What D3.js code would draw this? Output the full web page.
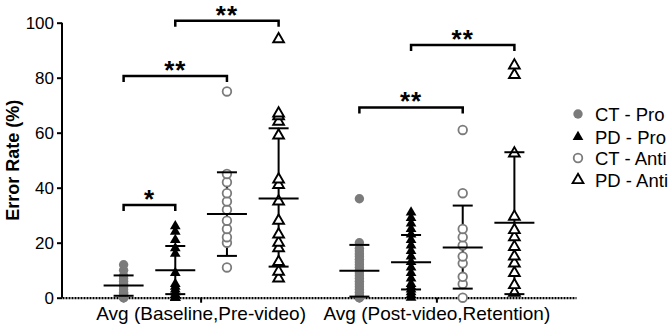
<!DOCTYPE html>
<html lang="en">
<head>
    <meta charset="UTF-8">
    <title>Error Rate</title>
    <style>
        body { margin: 0; background: #fff; font-family: Arial, "Liberation Sans", sans-serif; }
    </style>
</head>
<body>
    <div id="chart"></div>
    <script src="https://d3js.org/d3.v7.min.js"></script>
    <script>
        // Data
        const groups = ["Avg (Baseline,Pre-video)", "Avg (Post-video,Retention)"];
        const seriesNames = ["CT - Pro", "PD - Pro", "CT - Anti", "PD - Anti"];

        const g1CtPro = [0, 0, 0, 0.5, 1, 1.5, 2, 3, 4, 5, 6, 7, 8, 10, 12];
        const g1PdPro = [0, 0, 0, 1, 1, 2, 3, 4, 5, 9, 16, 18, 21, 24, 26];
        const g1CtAnti = [11, 20, 22, 25, 28, 32, 35, 38, 42, 45, 75];
        const g1PdAnti = [7, 9.5, 13, 18, 20, 23, 28, 35, 41, 43, 59, 64, 66, 67, 94];
        const g2CtPro = [0, 0, 0, 1, 2, 3, 4, 5, 6, 7, 8, 9, 10, 11, 12, 13, 14, 15, 16, 17, 18, 20, 36];
        const g2PdPro = [0, 1, 2, 3, 4, 5, 7, 9, 11, 13, 15, 17, 19, 21, 23, 25, 27, 29, 31];
        const g2CtAnti = [0, 5, 7.6, 12.5, 15, 19, 22, 25, 38, 61];
        const g2PdAnti = [1.8, 4.6, 9, 12.5, 15, 18.5, 22, 24.6, 29.5, 52.5, 81, 84.5];

        // mean, lower and upper whisker per group (series order)
        const means = [[4.4, 10, 30.4, 36.1], [9.8, 12.9, 18.3, 27.3]];
        const lows = [[0.7, 1.3, 15.2, 11.3], [0.4, 3, 3.3, 1.3]];
        const highs = [[8.1, 18.8, 45.6, 61.6], [19.2, 22.8, 33.5, 52.9]];

        // significance brackets: group, from series, to series, height, label
        const brackets = [
            [0, 0, 1, 33.7, "*"],
            [0, 0, 2, 80.6, "**"],
            [0, 1, 3, 100.7, "**"],
            [1, 0, 2, 69.2, "**"],
            [1, 1, 3, 91.9, "**"]
        ];

        const yTicks = [0, 20, 40, 60, 80, 100];

        const values = [[g1CtPro, g1PdPro, g1CtAnti, g1PdAnti], [g2CtPro, g2PdPro, g2CtAnti, g2PdAnti]];

        const gray = "#7b7b7b";
        const W = 669, H = 328;

        const svg = d3.select("#chart").append("svg")
            .attr("width", W).attr("height", H);

        const y = d3.scaleLinear().domain([0, 100]).range([297.7, 22.7]);
        const xg = d3.scaleBand().domain(groups).range([62, 576]).paddingInner(0).paddingOuter(0.09);
        const xs = d3.scalePoint().domain(seriesNames).range([-77.5, 77.5]);
        const cx = (gi, si) => xg(groups[gi]) + xg.bandwidth() / 2 + xs(seriesNames[si]);

        // y axis
        const yAxis = svg.append("g")
            .attr("transform", "translate(62,0)")
            .call(d3.axisLeft(y).tickValues(yTicks).tickSize(5).tickPadding(3));
        yAxis.select(".domain").attr("stroke-width", 2).attr("d", `M0,${y(100)}V${y(0)}`);
        yAxis.selectAll(".tick line").attr("stroke-width", 2);
        yAxis.selectAll("text").attr("font-size", 17).attr("font-family", "Arial, 'Liberation Sans', sans-serif").attr("fill", "#000");

        // x axis
        const xAxis = svg.append("g")
            .attr("transform", `translate(0,${y(0)})`)
            .call(d3.axisBottom(xg).tickSize(5).tickPadding(4).tickSizeOuter(0));
        xAxis.select(".domain").attr("stroke-width", 2.2).attr("stroke-dasharray", "2,1");
        xAxis.selectAll(".tick line").attr("stroke-width", 2);
        xAxis.selectAll("text").attr("font-size", 19).attr("font-family", "Arial, 'Liberation Sans', sans-serif").attr("fill", "#000");

        // y label
        svg.append("text")
            .attr("transform", `translate(19,${(y(0) + y(100)) / 2}) rotate(-90)`)
            .attr("text-anchor", "middle")
            .attr("font-size", 18).attr("font-weight", "bold")
            .text("Error Rate (%)");

        const marker = d3.symbol().type(d3.symbolTriangle).size(50);
        function drawMarker(sel, si) {
            if (si === 0) {
                sel.append("circle").attr("r", 4.7).attr("fill", gray);
            } else if (si === 1) {
                sel.append("path").attr("d", marker).attr("fill", "#000");
            } else if (si === 2) {
                sel.append("circle").attr("r", 4.3).attr("fill", "#fff").attr("stroke", gray).attr("stroke-width", 1.8);
            } else {
                sel.append("path").attr("d", marker).attr("fill", "#fff").attr("stroke", "#000").attr("stroke-width", 1.9);
            }
        }

        const plot = svg.append("g");
        values.forEach((grp, gi) => {
            grp.forEach((vals, si) => {
                const x0 = cx(gi, si);
                // vertical whisker
                plot.append("line")
                    .attr("x1", x0).attr("x2", x0)
                    .attr("y1", y(lows[gi][si])).attr("y2", y(highs[gi][si]))
                    .attr("stroke", "#000").attr("stroke-width", 2);
                vals.forEach(v => {
                    const m = plot.append("g").attr("transform", `translate(${x0},${y(v)})`);
                    drawMarker(m, si);
                });
                // mean and caps
                [[means[gi][si], 20], [lows[gi][si], 10], [highs[gi][si], 10]].forEach(([v, hw]) => {
                    plot.append("line")
                        .attr("x1", x0 - hw).attr("x2", x0 + hw)
                        .attr("y1", y(v)).attr("y2", y(v))
                        .attr("stroke", "#000").attr("stroke-width", 2);
                });
            });
        });

        // brackets
        brackets.forEach(([gi, a, b, h, lab]) => {
            const xa = cx(gi, a), xb = cx(gi, b), yy = y(h);
            svg.append("path")
                .attr("d", `M${xa},${yy + 6}V${yy}H${xb}V${yy + 6}`)
                .attr("fill", "none").attr("stroke", "#000").attr("stroke-width", 2.5);
            svg.append("text")
                .attr("x", (xa + xb) / 2).attr("y", yy + 3)
                .attr("text-anchor", "middle")
                .attr("font-size", 26).attr("font-weight", "bold").attr("letter-spacing", 1)
                .text(lab);
        });

        // legend
        const legendY = [114, 137, 158, 180];
        seriesNames.forEach((name, si) => {
            const g = svg.append("g").attr("transform", `translate(578,${legendY[si]})`);
            drawMarker(g, si);
            g.append("text").attr("x", 17).attr("y", 6.5)
                .attr("font-size", 18.5)
                .text(name);
        });
    </script>
</body>
</html>
